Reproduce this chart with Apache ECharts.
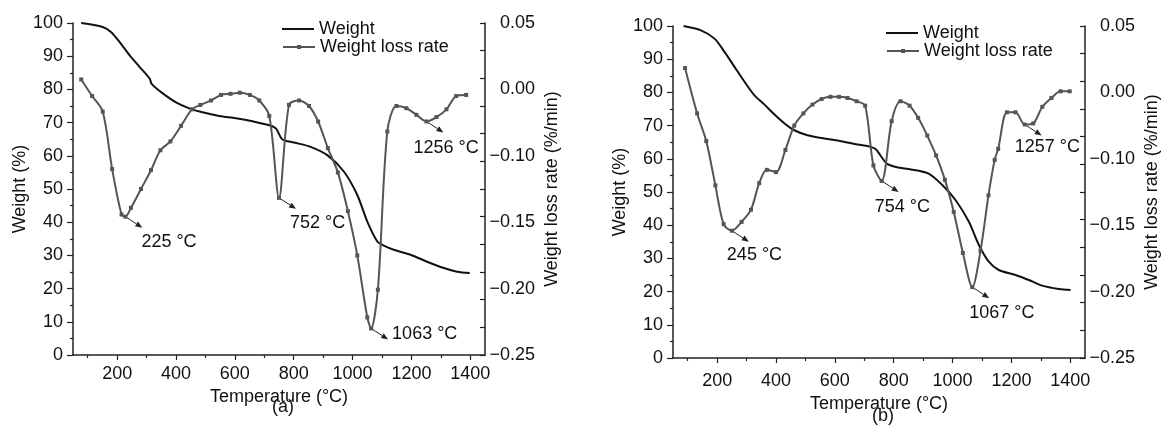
<!DOCTYPE html>
<html>
<head>
<meta charset="utf-8">
<script src="https://cdn.jsdelivr.net/npm/echarts@6/dist/echarts.min.js"></script>
<style>
  html, body { margin: 0; padding: 0; background: #fff; }
  #chart { width: 1162px; height: 425px; }
</style>
</head>
<body>
<div id="chart"></div>
<script>
// TG curves, temperature in °C, weight in %
const weightA = [[78,100],[151,98.8],[179,97.3],[208,94.3],[242,90.3],[276,86.8],[310,83.3],[318,81.6],[355,78.8],[400,76.1],[445,74.3],[490,73.1],[547,72.0],[604,71.3],[660,70.4],[717,69.2],[740,68.2],[761,65.0],[801,64.0],[857,62.7],[914,60.2],[971,55.2],[1016,48.2],[1050,40.2],[1084,34.2],[1101,33.2],[1140,31.7],[1197,30.2],[1253,28.1],[1310,26.2],[1355,25.1],[1398,24.7]];
const weightB = [[86,100],[145,98.7],[191,96.2],[225,92.2],[259,87.7],[293,83.2],[326,79.2],[360,76.4],[394,73.4],[428,70.7],[462,68.6],[507,67.1],[564,66.1],[621,65.3],[677,64.3],[722,63.6],[740,62.8],[755,61.0],[776,58.6],[804,57.6],[851,56.9],[917,55.6],[965,52.1],[1010,47.6],[1055,41.1],[1089,34.1],[1123,29.0],[1157,26.5],[1214,25.0],[1259,23.5],[1304,21.8],[1361,20.8],[1401,20.5]];

// DTG curves, %/min
const rateA = [[78,-0.001],[115,-0.016],[151,-0.030],[183,-0.082],[215,-0.123],[228,-0.125],[247,-0.117],[281,-0.100],[315,-0.083],[347,-0.065],[381,-0.057],[417,-0.043],[454,-0.028],[483,-0.024],[519,-0.020],[553,-0.015],[585,-0.014],[617,-0.013],[651,-0.015],[683,-0.020],[717,-0.034],[750,-0.108],[784,-0.024],[818,-0.020],[852,-0.025],[883,-0.039],[916,-0.063],[950,-0.085],[984,-0.120],[1016,-0.160],[1050,-0.216],[1063,-0.226],[1086,-0.191],[1118,-0.048],[1149,-0.025],[1183,-0.027],[1217,-0.033],[1251,-0.039],[1285,-0.035],[1319,-0.028],[1352,-0.016],[1386,-0.015]];
const rateB = [[91,0.012],[132,-0.029],[163,-0.054],[194,-0.094],[222,-0.129],[250,-0.135],[283,-0.127],[315,-0.116],[343,-0.092],[369,-0.080],[400,-0.082],[432,-0.062],[462,-0.040],[493,-0.029],[524,-0.021],[555,-0.016],[585,-0.014],[614,-0.014],[643,-0.015],[674,-0.018],[703,-0.022],[731,-0.076],[759,-0.090],[793,-0.036],[823,-0.018],[854,-0.022],[883,-0.033],[914,-0.049],[944,-0.067],[974,-0.089],[1004,-0.118],[1035,-0.155],[1067,-0.186],[1095,-0.153],[1122,-0.103],[1143,-0.071],[1155,-0.061],[1185,-0.028],[1214,-0.028],[1245,-0.039],[1274,-0.038],[1305,-0.023],[1336,-0.015],[1367,-0.009],[1398,-0.009]];

// marked peaks on the DTG curves
const peaksA = [[228,-0.125],[750,-0.108],[1063,-0.226],[1251,-0.039]];
const peakLabelsA = ['225 °C','752 °C','1063 °C','1256 °C'];
const peaksB = [[250,-0.135],[759,-0.090],[1067,-0.186],[1245,-0.039]];
const peakLabelsB = ['245 °C','754 °C','1067 °C','1257 °C'];

// axis ticks
const tempTicks = [200,400,600,800,1000,1200,1400];
const tempMinorTicks = [100,300,500,700,900,1100,1300];
const rateTickLabels = ['0.05','0.00','\u22120.10','\u22120.15','\u22120.20','\u22120.25'];

const FONT = '"Liberation Sans", Arial, sans-serif';
const INK = '#111';
const AXIS = '#222';
const GRAY = '#555';

const rateMin = -0.25, rateMax = 0.05;
// the right-hand labels sit evenly spaced along the axis
const rateLabelPos = rateTickLabels.map((s, i) => rateMax - i * (rateMax - rateMin) / (rateTickLabels.length - 1));

const text18 = { fontSize: 18, color: INK, fontFamily: FONT };

function xAxes(gridIndex, labelMargin, nameGap) {
  return [{
    gridIndex, type: 'value', min: 50, max: 1450, position: 'bottom',
    axisLine: { show: true, onZero: false, lineStyle: { color: AXIS, width: 1.5 } },
    axisTick: { show: true, customValues: tempTicks, length: 5, lineStyle: { color: AXIS, width: 1.2 } },
    axisLabel: Object.assign({ customValues: tempTicks, margin: labelMargin, formatter: v => String(v) }, text18),
    splitLine: { show: false },
    name: 'Temperature (°C)', nameLocation: 'middle', nameGap, nameTextStyle: text18
  }, {
    gridIndex, type: 'value', min: 50, max: 1450, position: 'bottom',
    axisLine: { show: false, onZero: false },
    axisTick: { show: true, customValues: tempMinorTicks, length: 3, lineStyle: { color: AXIS, width: 1.2 } },
    axisLabel: { show: false },
    splitLine: { show: false }
  }];
}

function yAxes(gridIndex) {
  return [{
    gridIndex, type: 'value', min: 0, max: 100, interval: 10, position: 'left',
    axisLine: { show: true, onZero: false, lineStyle: { color: AXIS, width: 1.5 } },
    axisTick: { show: true, length: 6, lineStyle: { color: AXIS, width: 1.2 } },
    minorTick: { show: true, splitNumber: 2, length: 3, lineStyle: { color: AXIS, width: 1.2 } },
    axisLabel: Object.assign({ margin: 10 }, text18),
    splitLine: { show: false },
    name: 'Weight (%)', nameLocation: 'middle', nameGap: 40, nameTextStyle: text18
  }, {
    gridIndex, type: 'value', min: rateMin, max: rateMax, interval: 0.025, position: 'right',
    axisLine: { show: true, onZero: false, lineStyle: { color: AXIS, width: 1.5 } },
    axisTick: { show: true, inside: true, length: 5, lineStyle: { color: AXIS, width: 1.2 } },
    axisLabel: Object.assign({
      customValues: rateLabelPos, align: 'right', margin: 50,
      formatter: v => {
        const i = rateLabelPos.findIndex(p => Math.abs(p - v) < 1e-6);
        return i < 0 ? '' : rateTickLabels[i];
      }
    }, text18),
    splitLine: { show: false },
    name: 'Weight loss rate (%/min)', nameLocation: 'middle', nameGap: 58, nameTextStyle: text18
  }];
}

function seriesFor(weight, rate, xIdx, yIdx) {
  return [{
    name: 'Weight', type: 'line', xAxisIndex: xIdx, yAxisIndex: yIdx,
    data: weight, smooth: 0.3, symbol: 'none',
    lineStyle: { color: INK, width: 2 }, itemStyle: { color: INK }
  }, {
    name: 'Weight loss rate', type: 'line', xAxisIndex: xIdx, yAxisIndex: yIdx + 1,
    data: rate, smooth: 0.3, symbol: 'rect', symbolSize: 4, showAllSymbol: true,
    lineStyle: { color: GRAY, width: 2 }, itemStyle: { color: GRAY }
  }];
}

// one legend per entry so the plain line gets no marker
function legends(left, top) {
  const base = { orient: 'vertical', left, padding: 0, itemWidth: 32, textStyle: text18 };
  return [
    Object.assign({ top, itemHeight: 2, icon: 'rect', data: ['Weight'] }, base),
    Object.assign({ top: top + 18, itemHeight: 5, data: ['Weight loss rate'] }, base)
  ];
}

const chart = echarts.init(document.getElementById('chart'));

chart.setOption({
  animation: false,
  backgroundColor: '#fff',
  grid: [
    { left: 73, top: 23, width: 412, height: 332 },
    { left: 673, top: 26, width: 413, height: 332 }
  ],
  legend: legends(282, 20).concat(legends(886, 24)),
  xAxis: xAxes(0, 10, 23).concat(xAxes(1, 14, 27)),
  yAxis: yAxes(0).concat(yAxes(1)),
  series: seriesFor(weightA, rateA, 0, 0).concat(seriesFor(weightB, rateB, 2, 2))
});

// arrows + temperature labels at the DTG peaks
function annotate(peaks, labels, textOffsets, seriesIndex) {
  return peaks.map((p, i) => {
    const [x, y] = chart.convertToPixel({ seriesIndex }, p);
    const x2 = x + 17, y2 = y + 11;
    const len = Math.hypot(x2 - x, y2 - y);
    const ux = (x2 - x) / len, uy = (y2 - y) / len;
    const bx = x2 - ux * 7, by = y2 - uy * 7;
    const [tx, ty] = textOffsets[i];
    return {
      type: 'group',
      children: [
        { type: 'line', shape: { x1: x, y1: y, x2: bx, y2: by }, style: { stroke: AXIS, lineWidth: 1 } },
        { type: 'polygon', shape: { points: [[x2, y2], [bx - uy * 2.8, by + ux * 2.8], [bx + uy * 2.8, by - ux * 2.8]] }, style: { fill: AXIS } },
        { type: 'text', x: x + tx, y: y + ty, style: { text: labels[i], fill: INK, font: '18px ' + FONT, textAlign: 'left', textVerticalAlign: 'middle', align: 'left', verticalAlign: 'middle' } }
      ]
    };
  });
}

const offsetsA = [[16, 25], [11, 25], [21, 6], [-13, 27]];
const offsetsB = [[-5, 24], [-7, 26], [-3, 26], [-10, 23]];

const panelTag = (text, x, y) => ({
  type: 'text', x, y,
  style: { text, fill: INK, font: '18px ' + FONT, textAlign: 'center', textVerticalAlign: 'middle', align: 'center', verticalAlign: 'middle' }
});

chart.setOption({
  graphic: annotate(peaksA, peakLabelsA, offsetsA, 1)
    .concat(annotate(peaksB, peakLabelsB, offsetsB, 3))
    .concat([panelTag('(a)', 283, 407), panelTag('(b)', 883, 416)])
});
</script>
</body>
</html>
